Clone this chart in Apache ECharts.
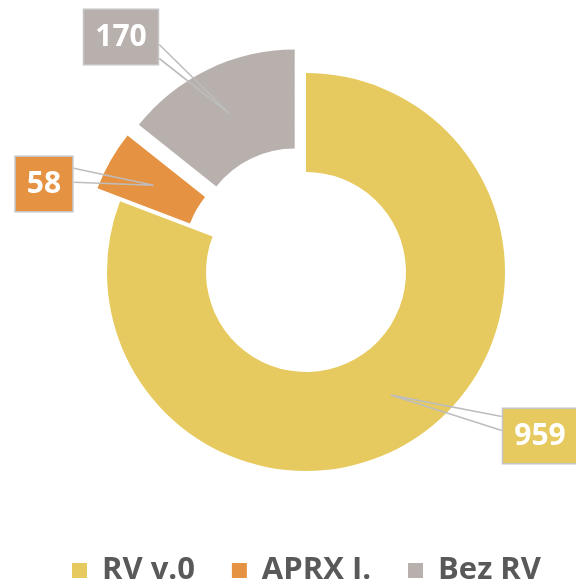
<!DOCTYPE html>
<html>
<head>
<meta charset="utf-8">
<script src="https://cdn.jsdelivr.net/npm/echarts@6/dist/echarts.min.js"></script>
<style>
  html, body { margin: 0; padding: 0; background: #fff; }
  #chart { width: 576px; height: 582px; }
</style>
</head>
<body>
<div id="chart"></div>
<script>
// data
const categories = ['RV v.0', 'APRX I.', 'Bez RV'];
const values = [959, 58, 170];
const exploded = [false, true, true];

// styling
const colors = ['#E6CA5F', '#E59342', '#B8B0AD'];
// centres of the value boxes (px)
const labelCenters = [[540, 436], [44, 184], [121, 37]];

const CX = 306, CY = 272, R0 = 100, R1 = 199, OFFSET = 26;

// mid angle of every slice, clockwise from 12 o'clock
const total = values.reduce((a, b) => a + b, 0);
let acc = 0;
const midAngles = values.map(v => {
  const m = (acc + v / 2) / total * 2 * Math.PI;
  acc += v;
  return m;
});

const chart = echarts.init(document.getElementById('chart'));
chart.setOption({
  animation: false,
  legend: {
    left: 67,
    top: 550,
    itemWidth: 15,
    itemHeight: 15,
    itemGap: 37,
    icon: 'rect',
    textStyle: {
      color: '#595959',
      fontFamily: 'Open Sans',
      fontWeight: 'bold',
      fontSize: 31,
      padding: [0, 0, 0, 10]
    },
    data: categories.map((name, i) => ({ name: name, itemStyle: { color: colors[i] } }))
  },
  series: [
    // the ring itself, small slices pulled out
    {
      type: 'pie',
      z: 2,
      center: [CX, CY],
      radius: [R0, R1],
      startAngle: 90,
      clockwise: true,
      selectedMode: 'multiple',
      selectedOffset: OFFSET,
      emphasis: { disabled: true },
      label: { show: false },
      labelLine: { show: false },
      data: categories.map((name, i) => ({
        name: name,
        value: values[i],
        selected: exploded[i],
        itemStyle: { color: colors[i] }
      }))
    },
    // value callouts drawn on top of the ring
    {
      type: 'pie',
      z: 3,
      silent: true,
      center: [CX, CY],
      radius: [R0, R1],
      startAngle: 90,
      clockwise: true,
      emphasis: { disabled: true },
      itemStyle: { color: 'rgba(0,0,0,0)' },
      data: categories.map((name, i) => ({
        name: name,
        value: values[i],
        label: { backgroundColor: colors[i] }
      })),
      label: {
        show: true,
        position: 'outside',
        formatter: '{c}',
        color: '#fff',
        fontFamily: 'Open Sans',
        fontWeight: 'bold',
        fontSize: 30,
        lineHeight: 36,
        padding: [9, 11, 9, 11],
        borderColor: '#C4C4C4',
        borderWidth: 1.5
      },
      labelLine: {
        show: true,
        smooth: false,
        lineStyle: { color: '#BDBDBD', width: 1.6 }
      },
      labelLayout: function (p) {
        const i = p.dataIndex;
        const a = midAngles[i];
        const r = (R0 + R1) / 2 + (exploded[i] ? OFFSET : 0);
        const ax = CX + r * Math.sin(a);
        const ay = CY - r * Math.cos(a);
        const c = labelCenters[i];
        const w = p.labelRect.width, h = p.labelRect.height;
        const top = c[1] - h / 2, bottom = c[1] + h / 2;
        const side = ax > c[0] ? c[0] + w / 2 : c[0] - w / 2;
        const mid = Math.min(Math.max(ay - 10, top + 16), bottom - 14);
        return {
          x: c[0],
          y: c[1],
          align: 'center',
          verticalAlign: 'middle',
          labelLinePoints: [[side, mid - 7], [ax, ay], [side, mid + 7]]
        };
      }
    }
  ]
});
</script>
</body>
</html>
